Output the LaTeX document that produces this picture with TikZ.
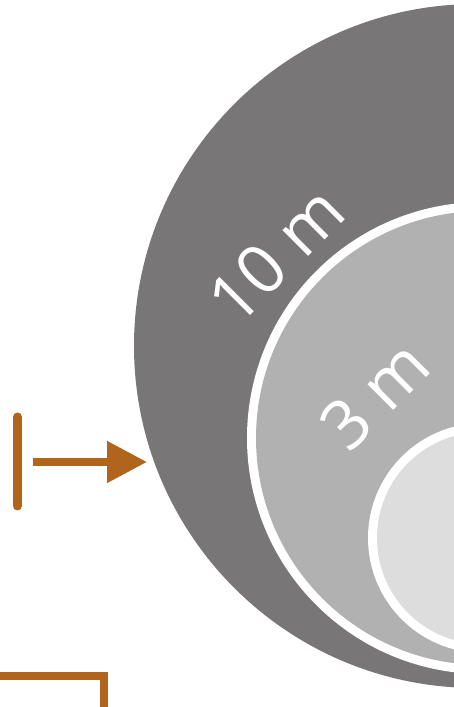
\documentclass[tikz,border=0pt]{standalone}
\usepackage{fontspec}
\setmainfont{Open Sans}
\usetikzlibrary{arrows.meta}
\definecolor{ringdark}{HTML}{787677}
\definecolor{ringmid}{HTML}{B2B1B1}
\definecolor{ringlight}{HTML}{DDDDDD}
\definecolor{rust}{HTML}{B1651A}
\tikzset{
  zonelabel/.style={text=white, font=\fontsize{68}{68}\selectfont, rotate=45, inner sep=0pt},
  rustline/.style={draw=rust, line width=8pt}
}
\begin{document}
\begin{tikzpicture}[x=1pt, y=1pt]
  \useasboundingbox (0,0) rectangle (454,707);
  \clip (0,0) rectangle (454,707);
  % zones
  \fill[ringdark] (476,361) circle (342);
  \fill[white] (483,269) circle (236);
  \fill[ringmid] (483,269) circle (227);
  \fill[white] (483,169) circle (115);
  \fill[ringlight] (483,169) circle (106);
  \node[zonelabel] (ten) at (276,452) {10 m};
  \node[zonelabel] (three) at (375,312) {3 m};
  % bracket and arrow
  \coordinate (brktop) at (17.5,290);
  \coordinate (brkbot) at (17.5,201);
  \draw[rustline, line width=9pt, line cap=round] (brktop) -- (brkbot);
  \coordinate (arrstart) at (33,245);
  \coordinate (arrtip) at (147,245);
  \draw[rustline, -{Triangle[length=40pt, width=40pt]}] (arrstart) -- (arrtip);
  % lower bracket
  \coordinate (lowleft) at (0,31);
  \coordinate (lowcorner) at (104,31);
  \coordinate (lowend) at (104,0);
  \draw[rustline] (lowleft) -- (lowcorner) -- (lowend);
\end{tikzpicture}
\end{document}
